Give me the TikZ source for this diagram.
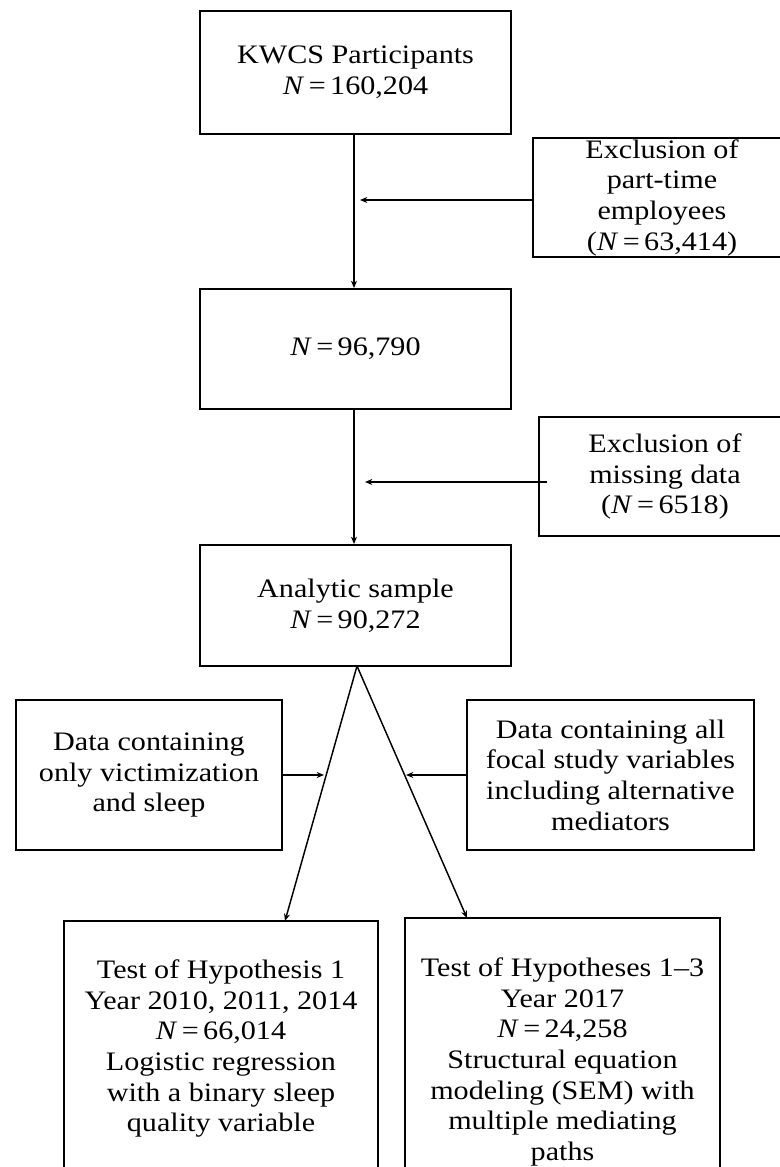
\documentclass[tikz,border=0pt]{standalone}
\usepackage{fontspec}
\setmainfont[FakeStretch=1.13]{Liberation Serif}
\usetikzlibrary{arrows.meta}
\newcommand{\NN}{\textit{N}\,=\,}
\begin{document}
\begin{tikzpicture}[x=0.75pt,y=-0.75pt,
  box/.style={draw, line width=1.4pt, align=center, inner sep=0pt,
    font=\fontsize{20}{23}\selectfont},
  conn/.style={line width=1.1pt, -{Stealth[length=5.5pt,width=4.5pt]}}]
\useasboundingbox (0,0) rectangle (780,1167);
\clip (0,0) rectangle (780,1167);
\node[box, minimum width=311*0.75pt, minimum height=123*0.75pt] (b1) at (355.5,72.5) {KWCS Participants\\\NN160,204};
\node[box, minimum width=311*0.75pt, minimum height=120*0.75pt] (b2) at (355.5,349) {\NN96,790};
\node[box, minimum width=311*0.75pt, minimum height=121*0.75pt] (b3) at (355.5,605.5) {Analytic sample\\\NN90,272};
\node[box, minimum width=258*0.75pt, minimum height=119*0.75pt] (e1) at (662,197.5) {Exclusion of\\part-time\\employees\\(\NN63,414)};
\node[box, minimum width=252*0.75pt, minimum height=119*0.75pt] (e2) at (665,476.5) {Exclusion of\\missing data\\(\NN6518)};
\node[box, minimum width=266*0.75pt, minimum height=150*0.75pt] (l) at (149,775) {Data containing\\only victimization\\and sleep};
\node[box, minimum width=287*0.75pt, minimum height=150*0.75pt] (r) at (610.5,775) {Data containing all\\focal study variables\\including alternative\\mediators};
\node[box, minimum width=314*0.75pt, minimum height=255*0.75pt] (t1) at (221,1048.5) {Test of Hypothesis 1\\Year 2010, 2011, 2014\\\NN66,014\\Logistic regression\\with a binary sleep\\quality variable};
\node[box, minimum width=315*0.75pt, minimum height=288*0.75pt] (t2) at (562.5,1062) {Test of Hypotheses 1--3\\Year 2017\\\NN24,258\\Structural equation\\modeling (SEM) with\\multiple mediating\\paths};
\coordinate (vx) at (354,0);
\coordinate (a1) at (360,200);
\coordinate (a2) at (365,482);
\coordinate (a2s) at (547,482);
\coordinate (apex) at (357,666);
\coordinate (lend) at (285,921);
\coordinate (rend) at (467,918);
\coordinate (lm) at (324,775);
\coordinate (rm) at (406,775);
\draw[conn] (b1.south -| vx) -- (b2.north -| vx);
\draw[conn] (b2.south -| vx) -- (b3.north -| vx);
\draw[conn] (e1.west |- a1) -- (a1);
\draw[conn] (a2s) -- (a2);
\draw[conn] (apex) -- (lend);
\draw[conn] (apex) -- (rend);
\draw[conn] (l.east |- lm) -- (lm);
\draw[conn] (r.west |- rm) -- (rm);
\end{tikzpicture}
\end{document}
